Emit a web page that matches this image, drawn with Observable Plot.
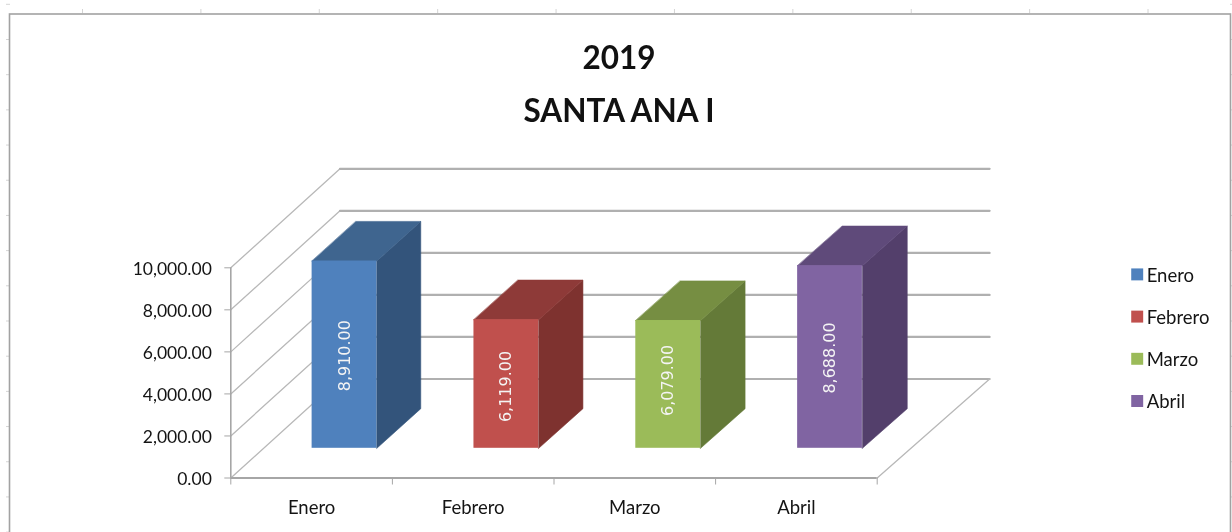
<!DOCTYPE html>
<html>
<head>
<meta charset="utf-8">
<script src="https://cdn.jsdelivr.net/npm/d3@7"></script>
<script src="https://cdn.jsdelivr.net/npm/@observablehq/plot@0.6"></script>
<style>
  html, body { margin: 0; padding: 0; background: #fff; overflow: hidden; }
  #chart {
    position: relative; width: 1232px; height: 532px; overflow: hidden;
    background-color: #fff;
    background-image:
      linear-gradient(90deg, #d4d4d4 1px, transparent 1px),
      linear-gradient(180deg, #d4d4d4 1px, transparent 1px),
      linear-gradient(180deg, #d4d4d4 1px, transparent 1px);
    background-repeat: repeat-x, repeat-y, repeat-y;
    background-size: 118.4px 4px, 4px 35.2px, 2px 35.2px;
    background-position: 82px 9px, 6px 39px, 1230px 39px;
  }
  #chart svg { display: block; filter: blur(0.5px); }
  #chart svg .barlabel text { font-family: "DejaVu Sans", sans-serif; }
</style>
</head>
<body>
<div id="chart"></div>
<script>
const titleLines = ["2019", "SANTA ANA I"];
const months = ["Enero", "Febrero", "Marzo", "Abril"];
const values = [8910, 6119, 6079, 8688];
const yTicks = [0, 2000, 4000, 6000, 8000, 10000];
const slotEdges = [0, 1, 2, 3, 4];
const slotCentres = [0.5, 1.5, 2.5, 3.5];
const frontColors = ["#4F81BD", "#C0504D", "#9BBB59", "#8064A2"];
const sideColors = ["#33547B", "#7E322F", "#647A38", "#533F6B"];
const topColors = ["#3F658F", "#8E3A38", "#768E42", "#5F4A7A"];

// Oblique projection with a slight widening toward the back: z is 0 at the front, 1 at the back.
const DEPTH_X = 0.6757, DEPTH_Y = 4710, WIDEN = 0.005;
const BAR_Z0 = 0.3, BAR_Z1 = 0.7, BAR_INSET = 0.3;
const P = (slot, value, z = 0) => ({x: slot * (1 + WIDEN * z) + z * DEPTH_X, y: value + z * DEPTH_Y});
const labelNudge = [1, 2.5, -4, 1];

const WALL = "#b0b0b0", DIAG = "#b8b8b8", AXIS = "#a6a6a6", INK = "#141414";
const FONT = "Lato, 'Open Sans', sans-serif";

const face = (pts, color) => Plot.line(pts, {
  x: "x", y: "y", fill: color, stroke: color, strokeWidth: 0.6, curve: "linear-closed"
});
const seg = (a, b, stroke, strokeWidth) => Plot.line([a, b], {x: "x", y: "y", stroke, strokeWidth});

const barMarks = months.flatMap((m, i) => {
  const l = i + BAR_INSET, r = i + 1 - BAR_INSET, v = values[i];
  const front = [P(l, 0, BAR_Z0), P(r, v, BAR_Z0)];
  return [
    face([P(r, 0, BAR_Z0), P(r, 0, BAR_Z1), P(r, v, BAR_Z1), P(r, v, BAR_Z0)], sideColors[i]),
    face([P(l, v, BAR_Z0), P(r, v, BAR_Z0), P(r, v, BAR_Z1), P(l, v, BAR_Z1)], topColors[i]),
    Plot.rect([front], {
      x1: d => d[0].x, x2: d => d[1].x, y1: d => d[0].y, y2: d => d[1].y,
      fill: frontColors[i]
    }),
    Plot.text([v], {
      x: () => P(i + 0.5, 0, BAR_Z0).x,
      y: d => P(0, d / 2, BAR_Z0).y,
      dy: labelNudge[i],
      text: d => d3.format(",.2f")(d),
      rotate: -90, fill: "#f4f4f4", fontSize: 16,
      fontFamily: "DejaVu Sans", className: "barlabel"
    })
  ];
});

const legendMarks = months.flatMap((m, i) => [
  Plot.dot([m], {
    frameAnchor: "top-right", dx: 260, dy: 6.6 + 42.2 * i,
    symbol: "square", r: 6.75, fill: frontColors[i]
  }),
  Plot.text([m], {
    text: d => d, frameAnchor: "top-right", dx: 269.5, dy: 8 + 42.1 * i,
    textAnchor: "start", lineAnchor: "middle",
    fontSize: 18.5, fontFamily: FONT, fill: INK
  })
]);

const chart = Plot.plot({
  width: 1232, height: 532,
  marginLeft: 230.3, marginRight: 355.3, marginTop: 267.3, marginBottom: 54.5,
  style: {background: "transparent", fontFamily: FONT},
  x: {type: "linear", domain: [0, 4]},
  y: {type: "linear", domain: [0, 10000]},
  marks: [
    Plot.frame({
      stroke: "#a2a2a2", strokeWidth: 1.6,
      insetLeft: -221.3, insetRight: -353.3, insetTop: -253.8, insetBottom: -70
    }),
    ...yTicks.map(v => seg(P(0, v, 0), P(0, v, 1), DIAG, 1.3)),
    ...yTicks.map(v => seg(P(0, v, 1), P(4, v, 1), WALL, 2.2)),
    seg(P(4, 0, 0), P(4, 0, 1), DIAG, 1.3),
    Plot.ruleX([0], {y1: 0, y2: 10000, stroke: AXIS, strokeWidth: 1.6}),
    Plot.ruleY([0], {x1: 0, x2: 4, stroke: AXIS, strokeWidth: 2.2}),
    Plot.axisY({ticks: yTicks, tickFormat: () => "", label: null, tickSize: 6, stroke: AXIS}),
    Plot.axisY({
      ticks: yTicks, tickFormat: d3.format(",.2f"), label: null,
      tickSize: 0, tickPadding: 19, dy: 1.5, fill: INK,
      fontSize: 17.5, fontVariant: "normal"
    }),
    Plot.axisX({ticks: slotEdges, tickFormat: () => "", label: null, tickSize: 7, stroke: AXIS}),
    Plot.axisX({
      ticks: slotCentres, tickFormat: d => months[Math.floor(d)], label: null,
      tickSize: 0, tickPadding: 22.5, fill: INK, fontSize: 18.5, fontVariant: "normal"
    }),
    ...barMarks,
    ...legendMarks,
    ...titleLines.map((t, i) => Plot.text([t], {
      text: d => d, frameAnchor: "top", dx: 65, dy: -209 + 53 * i, lineAnchor: "middle",
      fontSize: 31.5, fontWeight: 700, fontFamily: FONT, fill: "#111"
    }))
  ]
});
document.getElementById("chart").append(chart);
</script>
</body>
</html>
